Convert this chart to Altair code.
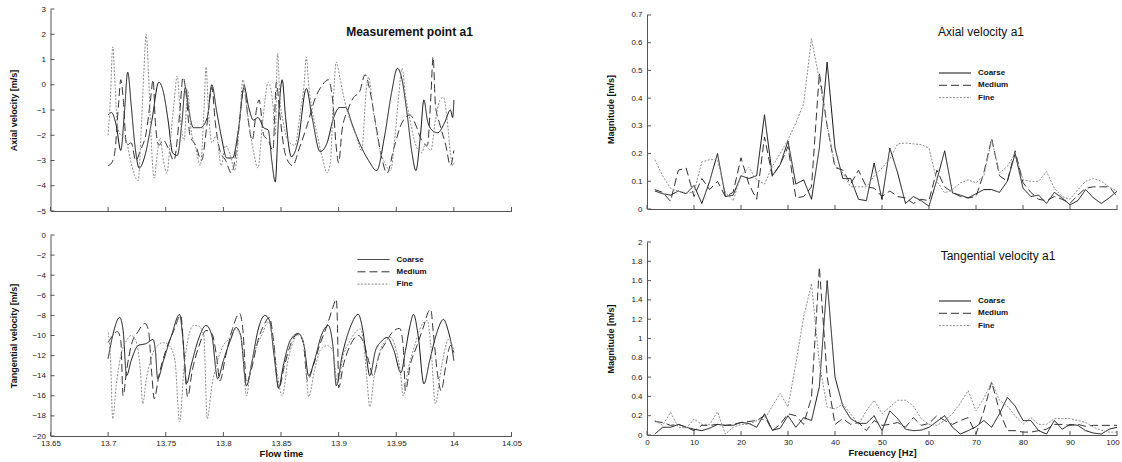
import altair as alt
import pandas as pd

FONT = "Liberation Sans"
SERIES = ["Coarse", "Medium", "Fine"]
SERIES_COLORS = ["#111111", "#333333", "#8c8c8c"]
SERIES_DASHES = [[1, 0], [8, 4], [2, 1.5]]

# ---------------- Axial velocity time series (flow time s, m/s) ----------------
AX_COARSE = [(13.700,-1.2),(13.703,-1.1),(13.707,-1.6),(13.711,-2.6),(13.714,-1.2),(13.717,0.5),(13.720,-0.8),
    (13.723,-2.3),(13.727,-3.3),(13.732,-2.8),(13.738,-1.4),(13.744,0.1),(13.748,-0.3),(13.752,-1.4),(13.756,-2.7),
    (13.760,-2.8),(13.764,-1.5),(13.767,-0.1),(13.770,-1.0),(13.774,-1.7),(13.780,-1.7),(13.786,-1.3),(13.790,0.0),
    (13.794,-1.0),(13.798,-2.0),(13.803,-2.9),(13.808,-2.9),(13.813,-1.8),(13.818,-0.1),(13.822,-0.9),(13.826,-1.4),
    (13.830,-1.3),(13.835,-1.7),(13.839,-1.8),(13.842,-3.0),(13.845,-3.85),(13.848,-1.2),(13.851,0.2),(13.854,-1.3),
    (13.859,-2.85),(13.865,-2.2),(13.872,-0.15),(13.877,-1.3),(13.884,-2.65),(13.890,-2.3),(13.895,-1.4),(13.901,-0.9),
    (13.906,-0.9),(13.912,-1.6),(13.918,-2.3),(13.926,-3.0),(13.933,-3.4),(13.940,-2.0),(13.946,-0.3),(13.951,0.65),
    (13.955,0.2),(13.959,-1.0),(13.964,-2.8),(13.967,-3.4),(13.971,-2.0),(13.974,-0.6),(13.977,-1.4),(13.981,-1.8),
    (13.986,-1.9),(13.992,-1.5),(13.997,-1.0),(13.999,-1.3),(14.000,-0.6)]
AX_MEDIUM = [(13.700,-3.2),(13.703,-3.1),(13.706,-2.6),(13.709,-0.8),(13.711,0.2),(13.713,-0.5),(13.716,-2.4),
    (13.720,-2.3),(13.724,-3.0),(13.728,-2.6),(13.733,-1.9),(13.737,-0.5),(13.739,0.2),(13.741,-1.5),(13.744,-2.4),
    (13.748,-2.2),(13.752,-2.5),(13.757,-3.0),(13.762,-1.2),(13.765,0.3),(13.768,-0.5),(13.771,-2.0),(13.776,-2.4),
    (13.781,-3.0),(13.786,-1.5),(13.790,-0.1),(13.793,-1.5),(13.797,-2.6),(13.802,-3.0),(13.807,-3.5),(13.812,-2.3),
    (13.816,-0.6),(13.818,0.0),(13.821,-1.2),(13.825,-2.2),(13.829,-0.9),(13.831,-0.6),(13.835,-2.0),(13.839,-2.2),
    (13.843,-2.6),(13.846,0.1),(13.849,-1.2),(13.854,-2.8),(13.860,-3.2),(13.866,-2.5),(13.872,-1.7),(13.880,-0.5),
    (13.886,0.0),(13.891,0.2),(13.895,-0.7),(13.898,-2.5),(13.900,-3.1),(13.903,-1.8),(13.908,-1.0),(13.913,-0.5),
    (13.918,-0.3),(13.923,0.4),(13.927,-0.2),(13.932,-1.5),(13.937,-2.8),(13.942,-3.5),(13.948,-2.5),(13.955,-1.5),
    (13.962,-1.2),(13.967,-1.6),(13.972,-2.2),(13.977,-2.4),(13.980,-0.5),(13.982,1.1),(13.984,-0.8),(13.988,-1.6),
    (13.993,-2.4),(13.997,-3.2),(14.000,-2.6)]
AX_FINE = [(13.700,-2.0),(13.702,-0.5),(13.704,1.5),(13.706,0.0),(13.708,-1.6),(13.711,-2.0),(13.715,-2.1),
    (13.719,-2.9),(13.723,-3.6),(13.726,-3.8),(13.729,-1.5),(13.731,0.5),(13.733,2.0),(13.735,0.5),(13.737,-1.8),
    (13.740,-3.7),(13.743,-2.6),(13.745,-2.1),(13.748,-3.0),(13.751,-3.5),(13.754,-2.2),(13.757,-0.8),(13.760,0.35),
    (13.763,-1.5),(13.766,-2.2),(13.769,-0.2),(13.772,-1.8),(13.776,-2.5),(13.780,-3.2),(13.783,-1.2),(13.785,0.7),
    (13.787,-1.0),(13.790,-2.3),(13.794,-2.0),(13.798,-3.2),(13.802,-2.4),(13.806,-2.8),(13.810,-3.4),(13.814,-1.5),
    (13.817,0.2),(13.820,-0.8),(13.823,-1.8),(13.826,-2.6),(13.830,-3.3),(13.834,-1.5),(13.839,0.1),(13.843,-0.8),
    (13.845,-2.0),(13.847,1.25),(13.849,-0.5),(13.852,-1.5),(13.856,-2.2),(13.862,-2.4),(13.867,-1.0),(13.870,0.0),
    (13.872,1.1),(13.874,0.0),(13.877,-1.0),(13.881,-1.9),(13.886,-2.9),(13.890,-3.5),(13.893,-3.0),(13.895,-1.0),
    (13.898,0.9),(13.901,0.3),(13.905,-0.6),(13.910,-1.4),(13.915,-2.0),(13.920,-2.6),(13.924,-0.2),(13.926,0.3),
    (13.930,-1.0),(13.936,-2.6),(13.940,-3.1),(13.945,-3.4),(13.949,-2.0),(13.952,-0.5),(13.955,0.65),(13.958,-0.4),
    (13.962,-1.4),(13.967,-2.4),(13.972,-2.7),(13.975,-2.4),(13.980,-2.6),(13.984,-1.4),(13.988,-0.6),(13.991,-0.5),
    (13.994,-1.3),(13.997,-2.7),(13.999,-3.2),(14.000,-3.1)]

# ---------------- Tangential velocity time series ----------------
TG_COARSE = [(13.700,-12.3),(13.704,-10.0),(13.710,-8.2),(13.713,-9.5),(13.716,-14.0),(13.720,-12.5),(13.726,-11.0),
    (13.733,-10.8),(13.739,-10.4),(13.741,-11.5),(13.743,-14.3),(13.748,-12.5),(13.755,-10.0),(13.762,-7.9),
    (13.765,-10.5),(13.768,-14.8),(13.772,-13.0),(13.778,-10.5),(13.785,-9.0),(13.790,-10.0),(13.795,-14.3),
    (13.800,-12.5),(13.806,-10.5),(13.811,-9.2),(13.815,-10.0),(13.820,-15.0),(13.825,-12.5),(13.830,-9.5),
    (13.836,-8.0),(13.840,-8.5),(13.844,-12.0),(13.848,-15.2),(13.852,-13.0),(13.858,-10.5),(13.865,-9.8),
    (13.870,-11.0),(13.874,-14.0),(13.879,-12.5),(13.885,-10.0),(13.891,-9.0),(13.895,-11.0),(13.898,-15.0),
    (13.903,-12.0),(13.910,-9.2),(13.917,-7.9),(13.921,-9.5),(13.924,-12.0),(13.927,-14.0),(13.932,-11.5),
    (13.937,-10.6),(13.942,-10.2),(13.948,-11.5),(13.954,-13.7),(13.958,-11.5),(13.962,-9.0),(13.965,-7.9),
    (13.969,-10.0),(13.974,-14.8),(13.979,-12.5),(13.985,-9.8),(13.991,-8.4),(13.995,-9.5),(13.998,-11.0),(14.000,-12.5)]
TG_MEDIUM = [(13.700,-10.7),(13.704,-10.0),(13.708,-9.6),(13.711,-10.5),(13.713,-16.0),(13.716,-13.5),(13.720,-11.0),
    (13.726,-9.6),(13.732,-8.8),(13.735,-9.5),(13.738,-14.0),(13.740,-16.3),(13.744,-14.0),(13.750,-11.5),
    (13.757,-9.5),(13.763,-8.0),(13.766,-12.0),(13.769,-16.1),(13.773,-13.5),(13.779,-11.0),(13.785,-9.5),
    (13.790,-9.8),(13.794,-12.0),(13.797,-14.5),(13.802,-12.0),(13.808,-9.3),(13.814,-7.8),(13.817,-9.5),
    (13.820,-14.7),(13.824,-13.5),(13.830,-10.5),(13.835,-9.0),(13.840,-8.2),(13.844,-11.0),(13.848,-15.3),
    (13.853,-13.0),(13.858,-11.0),(13.864,-9.9),(13.869,-10.5),(13.873,-14.5),(13.878,-13.0),(13.884,-10.8),
    (13.890,-9.0),(13.895,-7.2),(13.898,-6.4),(13.899,-9.0),(13.900,-15.2),(13.904,-13.0),(13.910,-11.0),
    (13.917,-10.0),(13.922,-10.8),(13.926,-12.5),(13.930,-14.0),(13.935,-12.0),(13.942,-10.5),(13.948,-9.5),
    (13.953,-9.3),(13.956,-11.0),(13.958,-15.5),(13.962,-13.0),(13.968,-11.0),(13.974,-9.0),(13.978,-7.6),
    (13.980,-7.4),(13.982,-9.5),(13.986,-14.0),(13.989,-15.5),(13.993,-13.0),(13.997,-11.0),(14.000,-11.7)]
TG_FINE = [(13.700,-9.7),(13.702,-12.0),(13.704,-18.3),(13.707,-15.0),(13.711,-12.0),(13.716,-10.5),(13.720,-10.0),
    (13.724,-10.5),(13.728,-13.5),(13.730,-16.8),(13.733,-14.5),(13.738,-12.0),(13.743,-11.0),(13.748,-10.7),
    (13.753,-11.0),(13.758,-12.5),(13.762,-18.6),(13.766,-13.0),(13.770,-10.0),(13.774,-9.0),(13.779,-9.1),
    (13.783,-10.0),(13.786,-18.3),(13.790,-15.0),(13.795,-12.5),(13.800,-11.0),(13.805,-10.3),(13.811,-9.35),
    (13.815,-10.0),(13.817,-12.0),(13.820,-16.0),(13.824,-13.0),(13.829,-11.0),(13.834,-9.8),(13.839,-8.6),
    (13.843,-10.5),(13.847,-14.0),(13.851,-16.0),(13.856,-12.5),(13.861,-10.5),(13.866,-9.85),(13.870,-11.0),
    (13.874,-16.1),(13.879,-13.5),(13.884,-11.5),(13.890,-11.0),(13.895,-11.5),(13.899,-14.8),(13.904,-12.0),
    (13.910,-10.5),(13.915,-9.6),(13.919,-9.35),(13.922,-11.0),(13.925,-15.0),(13.927,-17.1),(13.931,-14.0),
    (13.936,-11.5),(13.941,-10.5),(13.945,-10.2),(13.950,-11.5),(13.954,-14.0),(13.956,-16.0),(13.960,-13.5),
    (13.966,-11.0),(13.972,-9.0),(13.977,-8.5),(13.980,-11.0),(13.984,-16.8),(13.988,-14.0),(13.992,-11.5),
    (13.995,-10.4),(13.998,-10.8),(14.000,-11.5)]

# ---------------- Spectra (Hz, m/s) ----------------
FREQ = [1.67, 3.33, 5.0, 6.67, 8.33, 10.0, 11.67, 13.33, 15.0, 16.67, 18.33, 20.0, 21.67, 23.33, 25.0, 26.67,
        28.33, 30.0, 31.67, 33.33, 35.0, 36.67, 38.33, 40.0, 41.67, 43.33, 45.0, 46.67, 48.33, 50.0, 51.67, 53.33,
        55.0, 56.67, 58.33, 60.0, 61.67, 63.33, 65.0, 66.67, 68.33, 70.0, 71.67, 73.33, 75.0, 76.67, 78.33, 80.0,
        81.67, 83.33, 85.0, 86.67, 88.33, 90.0, 91.67, 93.33, 95.0, 96.67, 98.33, 100.0]
FA_COARSE = [0.065,0.055,0.05,0.065,0.055,0.085,0.02,0.10,0.20,0.045,0.05,0.12,0.11,0.12,0.34,0.12,0.16,0.245,
             0.09,0.105,0.035,0.22,0.53,0.22,0.11,0.11,0.035,0.03,0.166,0.034,0.22,0.13,0.02,0.045,0.03,0.01,
             0.105,0.21,0.058,0.05,0.04,0.055,0.07,0.07,0.06,0.1,0.2,0.075,0.045,0.05,0.02,0.06,0.04,0.015,0.03,
             0.07,0.04,0.02,0.04,0.064]
FA_MEDIUM = [0.07,0.06,0.028,0.14,0.148,0.045,0.11,0.07,0.1,0.045,0.06,0.185,0.09,0.035,0.26,0.118,0.16,0.225,
             0.04,0.045,0.08,0.49,0.3,0.15,0.14,0.09,0.14,0.08,0.075,0.045,0.065,0.045,0.04,0.02,0.035,0.03,0.14,
             0.08,0.06,0.045,0.04,0.045,0.13,0.255,0.12,0.1,0.21,0.095,0.06,0.035,0.03,0.045,0.035,0.02,0.05,
             0.075,0.08,0.08,0.08,0.045]
FA_FINE = [0.178,0.12,0.075,0.064,0.058,0.06,0.17,0.178,0.178,0.06,0.03,0.12,0.15,0.105,0.09,0.154,0.2,0.25,
           0.31,0.38,0.615,0.466,0.3,0.16,0.13,0.08,0.08,0.08,0.118,0.148,0.18,0.235,0.238,0.235,0.232,0.22,0.1,
           0.058,0.07,0.094,0.105,0.094,0.12,0.25,0.13,0.154,0.2,0.105,0.1,0.1,0.135,0.075,0.045,0.035,0.07,0.1,
           0.11,0.1,0.08,0.064]
FT_COARSE = [0.01,0.08,0.08,0.11,0.08,0.06,0.045,0.07,0.11,0.1,0.1,0.13,0.12,0.08,0.22,0.05,0.07,0.2,0.08,0.18,
             0.15,0.5,1.6,0.6,0.3,0.17,0.12,0.12,0.2,0.045,0.25,0.17,0.06,0.045,0.05,0.08,0.14,0.2,0.08,0.01,
             0.045,0.086,0.15,0.08,0.22,0.39,0.3,0.15,0.15,0.045,0.01,0.15,0.06,0.11,0.1,0.045,0.02,0.01,0.06,0.08]
FT_MEDIUM = [0.14,0.13,0.1,0.11,0.08,0.045,0.1,0.1,0.11,0.1,0.11,0.13,0.14,0.15,0.2,0.045,0.11,0.22,0.2,0.11,
             0.39,1.74,0.6,0.11,0.17,0.11,0.13,0.045,0.15,0.1,0.11,0.13,0.08,0.18,0.1,0.12,0.2,0.15,0.11,0.15,
             0.18,0.01,0.25,0.55,0.25,0.045,0.045,0.03,0.03,0.045,0.06,0.11,0.11,0.1,0.11,0.09,0.1,0.1,0.1,0.1]
FT_FINE = [0.15,0.1,0.235,0.08,0.07,0.165,0.11,0.11,0.24,0.01,0.08,0.11,0.11,0.15,0.165,0.3,0.43,0.29,0.74,1.22,
           1.57,0.74,0.29,0.27,0.32,0.22,0.11,0.25,0.36,0.22,0.29,0.36,0.36,0.3,0.17,0.11,0.1,0.15,0.22,0.33,
           0.46,0.25,0.38,0.55,0.36,0.3,0.2,0.11,0.18,0.11,0.11,0.17,0.17,0.17,0.15,0.13,0.08,0.05,0.03,0.03]

# axis tick values
T_TICKS = [13.65, 13.7, 13.75, 13.8, 13.85, 13.9, 13.95, 14.0, 14.05]
F_TICKS = [0, 10, 20, 30, 40, 50, 60, 70, 80, 90, 100]
AX_Y_TICKS = [-5, -4, -3, -2, -1, 0, 1, 2, 3]
TG_Y_TICKS = [-20, -18, -16, -14, -12, -10, -8, -6, -4, -2, 0]
FA_Y_TICKS = [0, 0.1, 0.2, 0.3, 0.4, 0.5, 0.6, 0.7]
FT_Y_TICKS = [0, 0.2, 0.4, 0.6, 0.8, 1, 1.2, 1.4, 1.6, 1.8, 2]

AXIS_COLOR = "#555555"


def pairs_frame(xname, named):
    rows = []
    for name, pts in named:
        for x, v in pts:
            rows.append({xname: x, "v": v, "series": name})
    return pd.DataFrame(rows)


def spec_frame(named):
    rows = []
    for name, vals in named:
        for f, v in zip(FREQ, vals):
            rows.append({"f": f, "v": v, "series": name})
    return pd.DataFrame(rows)


def panel(df, xname, xdom, xticks, ydom, yticks, w, h, show_xlabels, xtitle, ytitle,
          interp, title_text, title_pos, title_weight, legend_pos, flush, manual_ydomain=False):
    xaxis_kw = dict(values=xticks, labels=show_xlabels, format="~r")
    if flush:
        xaxis_kw.update(labelFlush=True, labelFlushOffset=2.2)
    else:
        xaxis_kw.update(labelFlush=False)
    if xtitle:
        xaxis_kw.update(title=xtitle, titleY=17, titleBaseline="middle", titleFontSize=9.5)
    else:
        xaxis_kw.update(title=None)
    X = alt.X(f"{xname}:Q", scale=alt.Scale(domain=xdom, nice=False, zero=False),
              axis=alt.Axis(**xaxis_kw))
    yaxis_kw = dict(values=yticks, format="~r", title=ytitle, titleX=-37, titleY=h / 2,
                    titleBaseline="middle", titleAlign="center", titleAngle=270)
    if manual_ydomain:
        yaxis_kw.update(domain=False)
    Y = alt.Y("v:Q", scale=alt.Scale(domain=ydom, nice=False, zero=False), axis=alt.Axis(**yaxis_kw))
    color = alt.Color("series:N", scale=alt.Scale(domain=SERIES, range=SERIES_COLORS), legend=None)
    dash = alt.StrokeDash("series:N", scale=alt.Scale(domain=SERIES, range=SERIES_DASHES), legend=None)

    lines = alt.Chart(df).mark_line(strokeWidth=1, interpolate=interp).encode(
        x=X, y=Y, color=color, strokeDash=dash)
    xt = alt.Chart(pd.DataFrame({xname: xticks})).mark_rule(color=AXIS_COLOR, strokeWidth=1).encode(
        x=X, y=alt.value(h), y2=alt.value(h - 4))
    yt = alt.Chart(pd.DataFrame({"v": yticks})).mark_rule(color=AXIS_COLOR, strokeWidth=1).encode(
        y=Y, x=alt.value(0), x2=alt.value(4))
    layers = [lines, xt, yt]
    if manual_ydomain:
        # vertical axis line only from the lowest to the highest tick
        layers.append(alt.Chart(pd.DataFrame({"v": [yticks[0]], "v2": [yticks[-1]]})).mark_rule(
            color=AXIS_COLOR, strokeWidth=1).encode(y=Y, y2="v2:Q", x=alt.value(0.5)))

    if title_text:
        tdf = pd.DataFrame({"label": [title_text]})
        layers.append(alt.Chart(tdf).mark_text(font=FONT, fontSize=12, fontWeight=title_weight,
                                               color="#111111", align="center", baseline="middle").encode(
            x=alt.value(title_pos[0]), y=alt.value(title_pos[1]), text="label:N"))

    if legend_pos is not None:
        lx, ly = legend_pos
        ldf = pd.DataFrame({"series": SERIES})
        for i, s in enumerate(SERIES):
            yy = ly + 12.3 * i
            base = alt.Chart(ldf).transform_filter(alt.datum.series == s)
            layers.append(base.mark_rule(strokeWidth=1).encode(
                x=alt.value(lx), x2=alt.value(lx + 32), y=alt.value(yy), y2=alt.value(yy),
                color=color, strokeDash=dash))
            layers.append(base.mark_text(font=FONT, fontSize=8, fontWeight="bold", color="#111111",
                                         align="left", baseline="middle").encode(
                x=alt.value(lx + 39), y=alt.value(yy), text="series:N"))

    return alt.layer(*layers).properties(width=w, height=h)


ax_df = pairs_frame("t", [("Coarse", AX_COARSE), ("Medium", AX_MEDIUM), ("Fine", AX_FINE)])
tg_df = pairs_frame("t", [("Coarse", TG_COARSE), ("Medium", TG_MEDIUM), ("Fine", TG_FINE)])
fa_df = spec_frame([("Coarse", FA_COARSE), ("Medium", FA_MEDIUM), ("Fine", FA_FINE)])
ft_df = spec_frame([("Coarse", FT_COARSE), ("Medium", FT_MEDIUM), ("Fine", FT_FINE)])

tl = panel(ax_df, "t", [13.65, 14.05], T_TICKS, [-5, 3], AX_Y_TICKS, 461, 202, False, None,
           "Axial velocity [m/s]", "monotone", "Measurement point a1", (359, 23), "bold", None, False)
bl = panel(tg_df, "t", [13.65, 14.05], T_TICKS, [-20, 0], TG_Y_TICKS, 461, 201, True, "Flow time",
           "Tangential velocity [m/s]", "monotone", "", (0, 0), "bold", (307, 24.5), False)
# top-right plot area starts 6 px above the 0.7 tick (the 0.7 tick lies 194 px above 0)
tr = panel(fa_df, "f", [0, 100], F_TICKS, [0, 0.7216], FA_Y_TICKS, 470, 200, False, None,
           "Magnitude [m/s]", "linear", "Axial velocity a1", (334, 23), "normal", (292, 64), True,
           manual_ydomain=True)
br = panel(ft_df, "f", [0, 100], F_TICKS, [0, 2], FT_Y_TICKS, 470, 193, True, "Frecuency [Hz]",
           "Magnitude [m/s]", "linear", "Tangential velocity a1", (351, 14), "normal", (292, 59), True)

left = alt.vconcat(tl, bl, spacing=16)
right = alt.vconcat(tr, br, spacing=25)
chart = alt.hconcat(left, right, spacing=83.5).properties(
    padding={"left": 9.5, "top": 5, "right": 0, "bottom": 0},
    background="white",
).configure_view(stroke=None).configure_axis(
    labelFont=FONT, labelFontSize=8, labelColor="#222222", titleFont=FONT, titleFontSize=9,
    titleFontWeight="bold", titleColor="#111111", domainColor=AXIS_COLOR, domainWidth=1,
    grid=False, ticks=False,
).configure_axisX(labelPadding=3).configure_axisY(labelPadding=5)

chart.save("out.html", embed_options={"renderer": "svg", "actions": False})
